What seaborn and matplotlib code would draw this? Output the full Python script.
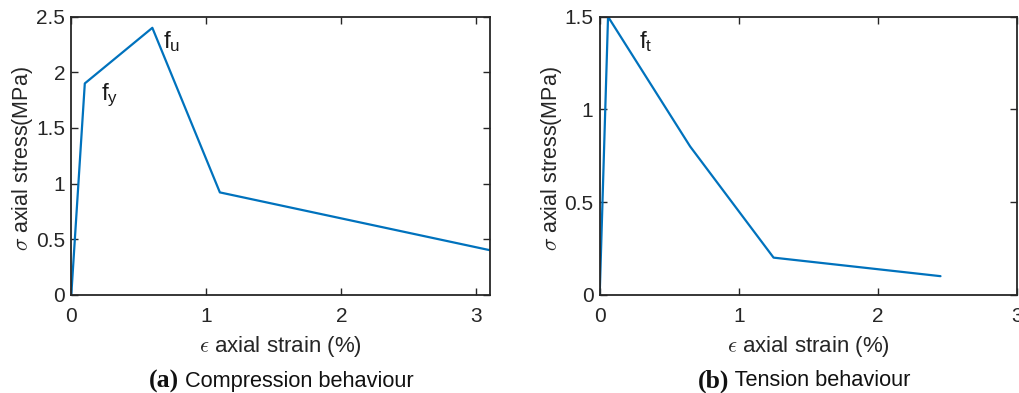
import matplotlib
matplotlib.use("Agg")
import matplotlib.pyplot as plt
import seaborn as sns
import pandas as pd

# Data
comp_strain = [0.0, 0.1, 0.6, 1.1, 3.1]
comp_stress = [0.0, 1.9, 2.4, 0.92, 0.4]
tens_strain = [0.0, 0.06, 0.65, 1.25, 2.45]
tens_stress = [0.0, 1.5, 0.8, 0.2, 0.1]

comp_xticks = [0, 1, 2, 3]
comp_yticks = [0, 0.5, 1, 1.5, 2, 2.5]
comp_yticklabels = ["0", "0.5", "1", "1.5", "2", "2.5"]
tens_xticks = [0, 1, 2, 3]
tens_yticks = [0, 0.5, 1, 1.5]
tens_yticklabels = ["0", "0.5", "1", "1.5"]

xlabel = r"$\epsilon$ axial strain (%)"
ylabel = r"$\sigma$ axial stress(MPa)"
captions = [("(a)", " Compression behaviour"), ("(b)", " Tension behaviour")]

sns.set_theme(style="white")
plt.rcParams["font.family"] = ["Liberation Sans", "DejaVu Sans"]
plt.rcParams["mathtext.fontset"] = "cm"

W, H = 1020, 393
fig = plt.figure(figsize=(W / 100, H / 100), dpi=100)

def px_axes(x0, x1, y0, y1):
    return fig.add_axes([x0 / W, 1 - y1 / H, (x1 - x0) / W, (y1 - y0) / H])

ax1 = px_axes(71.3, 490, 16.7, 294.7)
ax2 = px_axes(599.7, 1017, 16.7, 294.7)

color = "#0072BD"
df1 = pd.DataFrame({"strain": comp_strain, "stress": comp_stress})
df2 = pd.DataFrame({"strain": tens_strain, "stress": tens_stress})
sns.lineplot(data=df1, x="strain", y="stress", ax=ax1, color=color, lw=1.6, sort=False)
sns.lineplot(data=df2, x="strain", y="stress", ax=ax2, color=color, lw=1.6, sort=False)

ax1.set_xlim(0, 3.1)
ax1.set_ylim(0, 2.5)
ax1.set_xticks(comp_xticks)
ax1.set_yticks(comp_yticks)
ax1.set_yticklabels(comp_yticklabels)
ax2.set_xlim(0, 3)
ax2.set_ylim(0, 1.5)
ax2.set_xticks(tens_xticks)
ax2.set_yticks(tens_yticks)
ax2.set_yticklabels(tens_yticklabels)

for ax, ylx in ((ax1, -0.087), (ax2, -0.086)):
    for s in ax.spines.values():
        s.set_visible(True)
        s.set_color("#262626")
        s.set_linewidth(1.3)
    ax.tick_params(direction="in", length=5, width=1.0, colors="#262626",
                   top=True, right=True, bottom=True, left=True,
                   labelsize=15)
    ax.tick_params(axis="x", pad=8.5)
    ax.tick_params(axis="y", pad=4.5)
    for lab in ax.get_xticklabels() + ax.get_yticklabels():
        lab.set_color("#262626")
    ax.set_xlabel(xlabel, fontsize=16, color="#262626")
    ax.set_ylabel(ylabel, fontsize=15.5, color="#262626")
    ax.xaxis.set_label_coords(0.5, -0.142)
    ax.yaxis.set_label_coords(ylx, 0.49)
    ax.grid(False)

ax1.text(0.22, 1.75, r"$\mathregular{f_y}$", fontsize=17.5, color="#1a1a1a")
ax1.text(0.68, 2.22, r"$\mathregular{f_u}$", fontsize=17.5, color="#1a1a1a")
ax2.text(0.28, 1.33, r"$\mathregular{f_t}$", fontsize=17.5, color="#1a1a1a")

for (bold, rest), xa in zip(captions, [179, 729]):
    fig.text(xa / W, 1 - 381 / H, bold, ha="right", va="center",
             fontsize=18.5, fontweight="bold", family="Liberation Serif", color="#111111")
    fig.text(xa / W, 1 - 381 / H, rest, ha="left", va="center",
             fontsize=15.7, color="#111111")

fig.savefig("out.png", dpi=100, facecolor="white")
